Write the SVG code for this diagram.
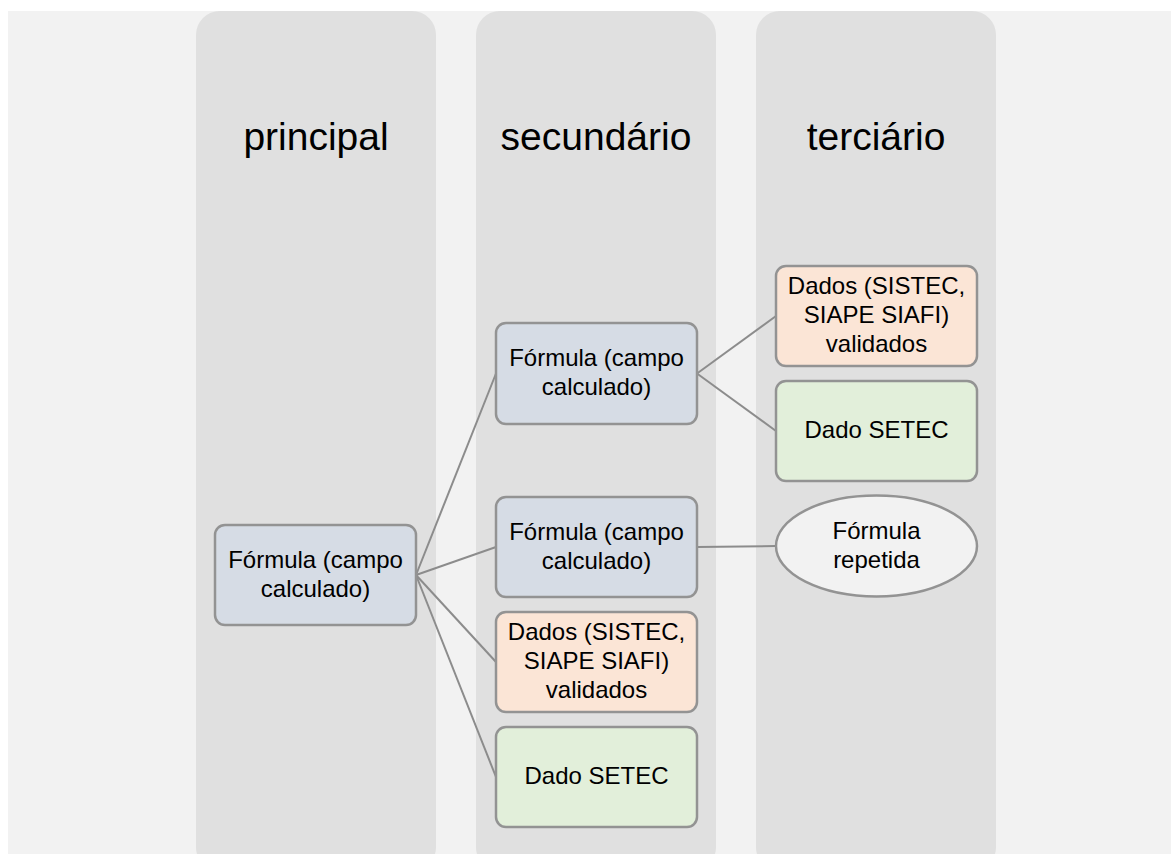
<svg xmlns="http://www.w3.org/2000/svg" width="1171" height="854" viewBox="0 0 1171 854">
<style>
.col{fill:#e0e0e0}
.hdr{font-family:"Liberation Sans",Arial,sans-serif;font-size:39px;fill:#000;text-anchor:middle}
.t{font-family:"Liberation Sans",Arial,sans-serif;font-size:24px;fill:#000;text-anchor:middle}
.n{stroke:#939393;stroke-width:2.5}
.blue{fill:#d6dce5}
.orange{fill:#fbe5d6}
.green{fill:#e2efda}
.ell{fill:#f2f2f2}
.c{stroke:#8c8c8c;stroke-width:2;fill:none}
</style>
<rect x="0" y="0" width="1171" height="854" fill="#ffffff"/>
<rect x="8" y="11" width="1163" height="843" fill="#f2f2f2"/>
<g id="columns">
<rect class="col" x="196" y="11" width="240" height="860" rx="24"/>
<rect class="col" x="476" y="11" width="240" height="860" rx="24"/>
<rect class="col" x="756" y="11" width="240" height="860" rx="24"/>
<text class="hdr" x="316" y="150">principal</text>
<text class="hdr" x="596" y="150">secundário</text>
<text class="hdr" x="876" y="150">terciário</text>
</g>
<g id="connectors">
<line class="c" x1="416" y1="575" x2="496" y2="373.5"/>
<line class="c" x1="416" y1="575" x2="496" y2="547"/>
<line class="c" x1="416" y1="575" x2="496" y2="662"/>
<line class="c" x1="416" y1="575" x2="496" y2="777"/>
<line class="c" x1="697" y1="373.5" x2="776" y2="316"/>
<line class="c" x1="697" y1="373.5" x2="776" y2="431"/>
<line class="c" x1="697" y1="547" x2="776" y2="546"/>
</g>
<g id="main">
<rect class="n blue" x="215" y="525" width="201" height="100" rx="10"/>
<text class="t" x="315.5" y="568">Fórmula (campo</text>
<text class="t" x="315.5" y="597">calculado)</text>
</g>
<g id="sec1">
<rect class="n blue" x="496" y="323" width="201" height="101" rx="10"/>
<text class="t" x="596.5" y="366">Fórmula (campo</text>
<text class="t" x="596.5" y="395">calculado)</text>
</g>
<g id="sec2">
<rect class="n blue" x="496" y="497" width="201" height="100" rx="10"/>
<text class="t" x="596.5" y="540">Fórmula (campo</text>
<text class="t" x="596.5" y="569">calculado)</text>
</g>
<g id="sec3">
<rect class="n orange" x="496" y="612" width="201" height="100" rx="10"/>
<text class="t" x="596.5" y="640">Dados (SISTEC,</text>
<text class="t" x="596.5" y="669">SIAPE SIAFI)</text>
<text class="t" x="596.5" y="698">validados</text>
</g>
<g id="sec4">
<rect class="n green" x="496" y="727" width="201" height="100" rx="10"/>
<text class="t" x="596.5" y="784">Dado SETEC</text>
</g>
<g id="ter1">
<rect class="n orange" x="776" y="266" width="201" height="100" rx="10"/>
<text class="t" x="876.5" y="294">Dados (SISTEC,</text>
<text class="t" x="876.5" y="323">SIAPE SIAFI)</text>
<text class="t" x="876.5" y="352">validados</text>
</g>
<g id="ter2">
<rect class="n green" x="776" y="381" width="201" height="100" rx="10"/>
<text class="t" x="876.5" y="438">Dado SETEC</text>
</g>
<g id="ter3">
<ellipse class="n ell" cx="876.5" cy="546" rx="100.5" ry="50.5"/>
<text class="t" x="876.5" y="539">Fórmula</text>
<text class="t" x="876.5" y="568">repetida</text>
</g>
</svg>
